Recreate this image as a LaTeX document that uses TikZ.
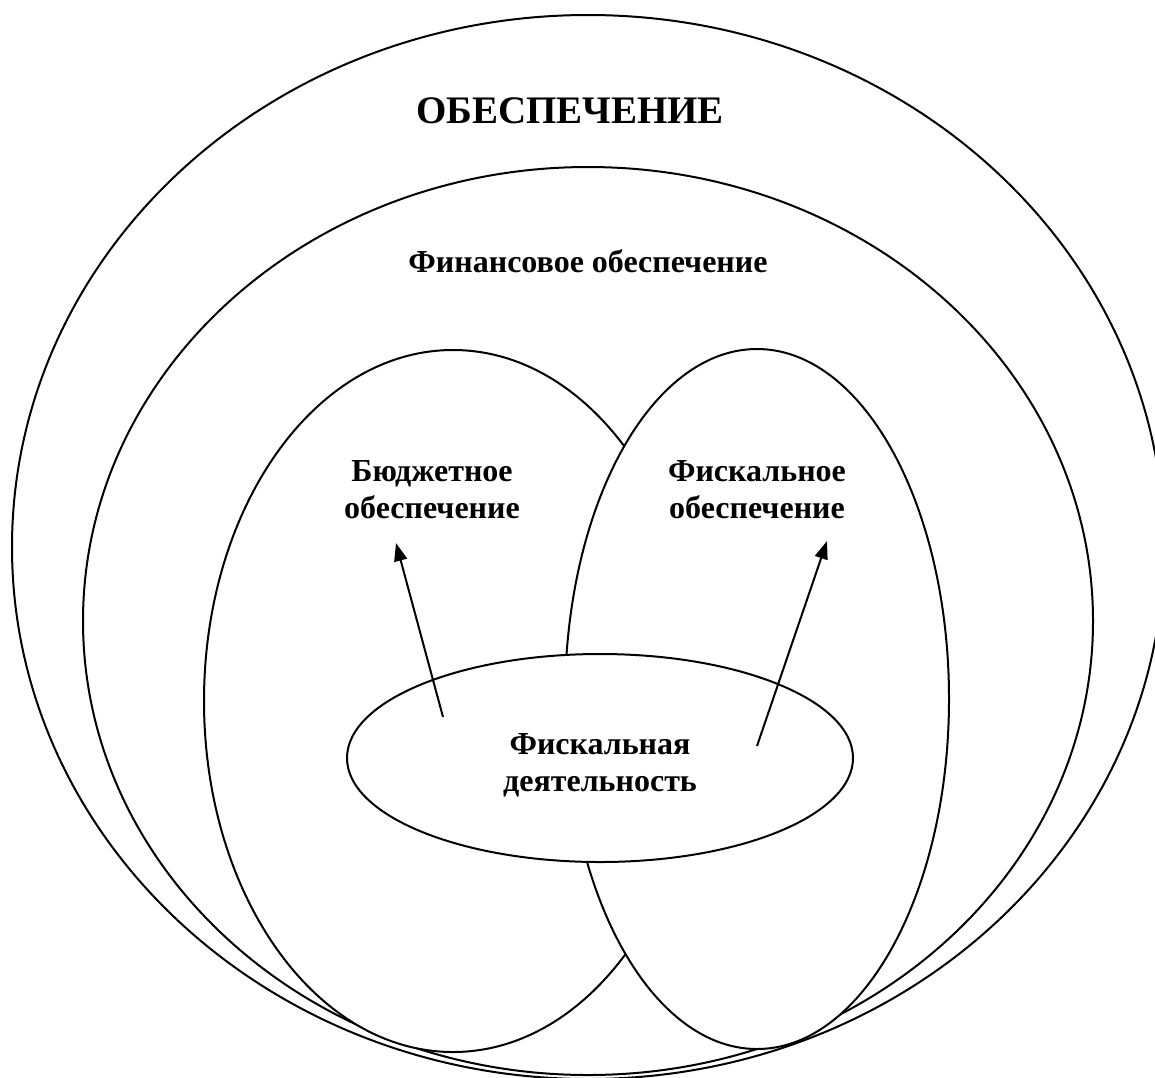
\documentclass[tikz,border=0pt]{standalone}
\usepackage{fontspec}
\setmainfont{Liberation Serif}
\usetikzlibrary{arrows.meta}
\begin{document}
\begin{tikzpicture}[x=0.5pt,y=-0.5pt,
  ring/.style={draw=black,line width=1pt,fill=white},
  lbl/.style={inner sep=0pt,align=center,font=\bfseries\fontsize{16}{18.5}\selectfont},
  arr/.style={line width=1pt,-{Triangle[length=9pt,width=6.5pt]}}]
\useasboundingbox (0,0) rectangle (1155,1077);
\clip (0,0) rectangle (1155,1077);
\fill[white] (0,0) rectangle (1155,1077);
% outer ellipses
\draw[ring] (588,547) ellipse [x radius=576, y radius=532];
\draw[ring] (588,621) ellipse [x radius=505, y radius=454];
% inner ellipses
\draw[ring] (453,701) ellipse [x radius=249, y radius=351];
\draw[ring] (757,699) ellipse [x radius=192, y radius=350];
\draw[ring] (600,758) ellipse [x radius=253, y radius=104];
% labels
\node[inner sep=0pt,anchor=base,font=\bfseries\fontsize{19.5}{24}\selectfont] (obesp) at (570,123) {ОБЕСПЕЧЕНИЕ};
\node[inner sep=0pt,anchor=base,font=\bfseries\fontsize{16}{18}\selectfont] (fin) at (588,272) {Финансовое обеспечение};
\node[lbl] (budget) at (432,490) {Бюджетное\\обеспечение};
\node[lbl] (fiscal) at (757,490) {Фискальное\\обеспечение};
\node[lbl] (activity) at (600,765) {Фискальная\\деятельность};
% arrows
\coordinate (a1) at (443,717);
\coordinate (b1) at (396,543);
\coordinate (a2) at (757,746);
\coordinate (b2) at (827,541);
\draw[arr] (a1) -- (b1);
\draw[arr] (a2) -- (b2);
\end{tikzpicture}
\end{document}
